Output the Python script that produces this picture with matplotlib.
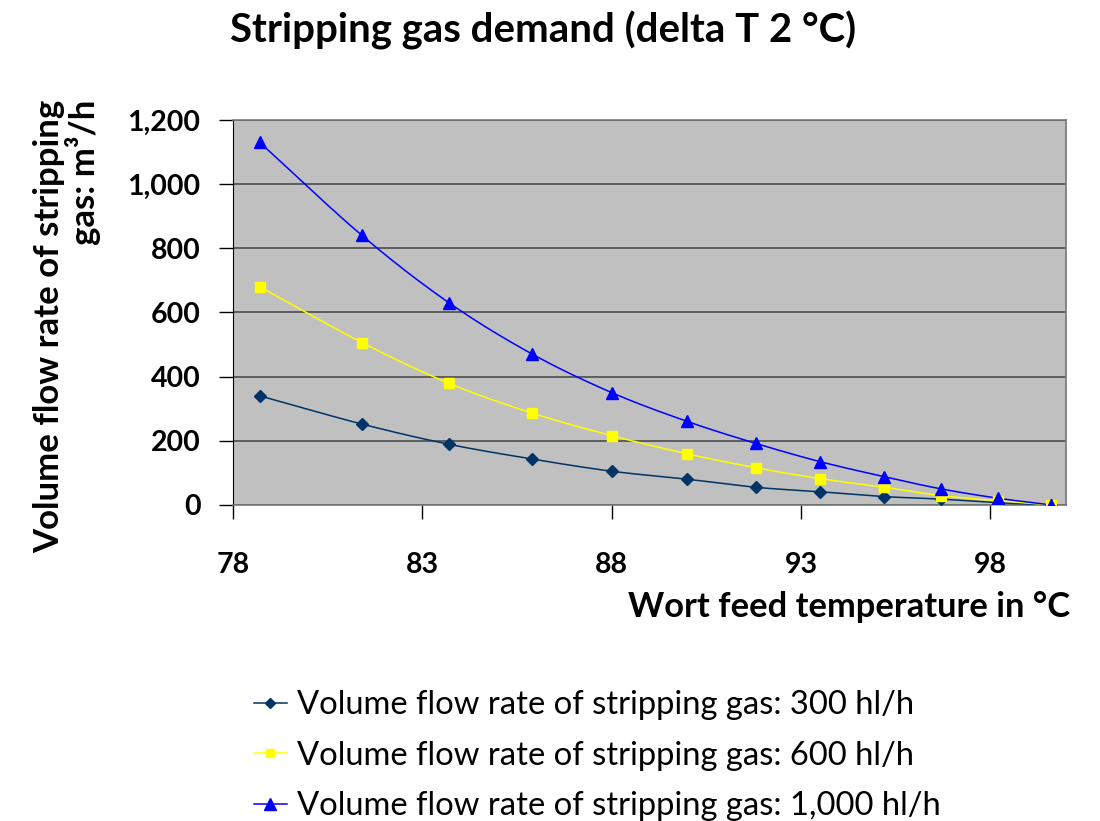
import matplotlib.pyplot as plt
import matplotlib.ticker as mticker
import numpy as np

# Data
temperature = [78.7, 81.4, 83.7, 85.9, 88.0, 90.0, 91.8, 93.5, 95.2, 96.7, 98.2, 99.6]
flow_300 = [340, 252, 189, 143, 105, 80, 55, 41, 26, 18, 7, 0]
flow_600 = [680, 506, 379, 286, 216, 159, 116, 82, 55, 29, 13, 0]
flow_1000 = [1130, 840, 630, 470, 350, 260, 192, 135, 88, 50, 21, 0]

labels = ['Volume flow rate of stripping gas: 300 hl/h',
          'Volume flow rate of stripping gas: 600 hl/h',
          'Volume flow rate of stripping gas: 1,000 hl/h']
colors = ['#003366', '#FFFF00', '#0000FF']
markers = ['D', 's', '^']
msizes = [6, 7, 9]

plt.rcParams['font.family'] = ['Lato', 'DejaVu Sans']


def smooth(x, y, n=20):
    # Catmull-Rom curve through the points, like Excel's smoothed line
    x = np.asarray(x, float)
    y = np.asarray(y, float)
    px = np.concatenate([[2 * x[0] - x[1]], x, [2 * x[-1] - x[-2]]])
    py = np.concatenate([[2 * y[0] - y[1]], y, [2 * y[-1] - y[-2]]])
    xs, ys = [], []
    t = np.linspace(0, 1, n)
    for i in range(1, len(px) - 2):
        for p, out in ((px, xs), (py, ys)):
            p0, p1, p2, p3 = p[i - 1], p[i], p[i + 1], p[i + 2]
            out.extend(0.5 * (2 * p1 + (-p0 + p2) * t
                              + (2 * p0 - 5 * p1 + 4 * p2 - p3) * t ** 2
                              + (-p0 + 3 * p1 - 3 * p2 + p3) * t ** 3))
    return xs, ys


fig = plt.figure(figsize=(11, 8.21), dpi=100)
ax = fig.add_axes([0.212, 0.385, 0.757, 0.469])
ax.set_facecolor('#C0C0C0')

series = [flow_300, flow_600, flow_1000]
for vals, col, mk, ms, lab in zip(series, colors, markers, msizes, labels):
    sx, sy = smooth(temperature, vals)
    ax.plot(sx, sy, color=col, linewidth=1.1, zorder=3)
    ax.plot(temperature, vals, linestyle='none', marker=mk, markersize=ms,
            color=col, zorder=4)
    # proxy for the legend
    ax.plot([], [], color=col, marker=mk, markersize=ms - 1, linewidth=1.1, label=lab)

ax.set_xlim(78, 100)
ax.set_ylim(0, 1200)
ax.xaxis.set_major_locator(mticker.FixedLocator([78, 83, 88, 93, 98]))
ax.yaxis.set_major_locator(mticker.MultipleLocator(200))
ax.yaxis.set_major_formatter(mticker.FuncFormatter(lambda v, p: f'{int(v):,}'))
ax.grid(axis='y', color='#555555', linewidth=1.3)
ax.set_axisbelow(True)

for s in ['top', 'right', 'bottom']:
    ax.spines[s].set_color('#777777')
    ax.spines[s].set_linewidth(1.2)
ax.spines['left'].set_color('black')

ax.tick_params(axis='both', direction='out', length=10, width=1, color='black',
               labelsize=20.5)
ax.tick_params(axis='x', pad=24)
ax.tick_params(axis='y', pad=13.5)
for lbl in ax.get_xticklabels() + ax.get_yticklabels():
    lbl.set_fontweight('bold')

fig.text(0.494, 0.963, 'Stripping gas demand (delta T 2 °C)', ha='center', va='center',
         fontsize=28.9, fontweight='bold')
fig.text(0.973, 0.261, 'Wort feed temperature in °C', ha='right', va='center',
         fontsize=24.8, fontweight='bold')
fig.text(0.061, 0.603, 'Volume flow rate of stripping\ngas: m³/h', ha='center', va='center',
         rotation=90, multialignment='right', fontsize=25, fontweight='bold',
         linespacing=1.0)

fig.legend(loc='upper left', bbox_to_anchor=(0.219, 0.175), frameon=False,
           fontsize=23.6, handlelength=1.0, handletextpad=0.3, labelspacing=0.62,
           borderaxespad=0)

plt.savefig('out.png', dpi=100)
